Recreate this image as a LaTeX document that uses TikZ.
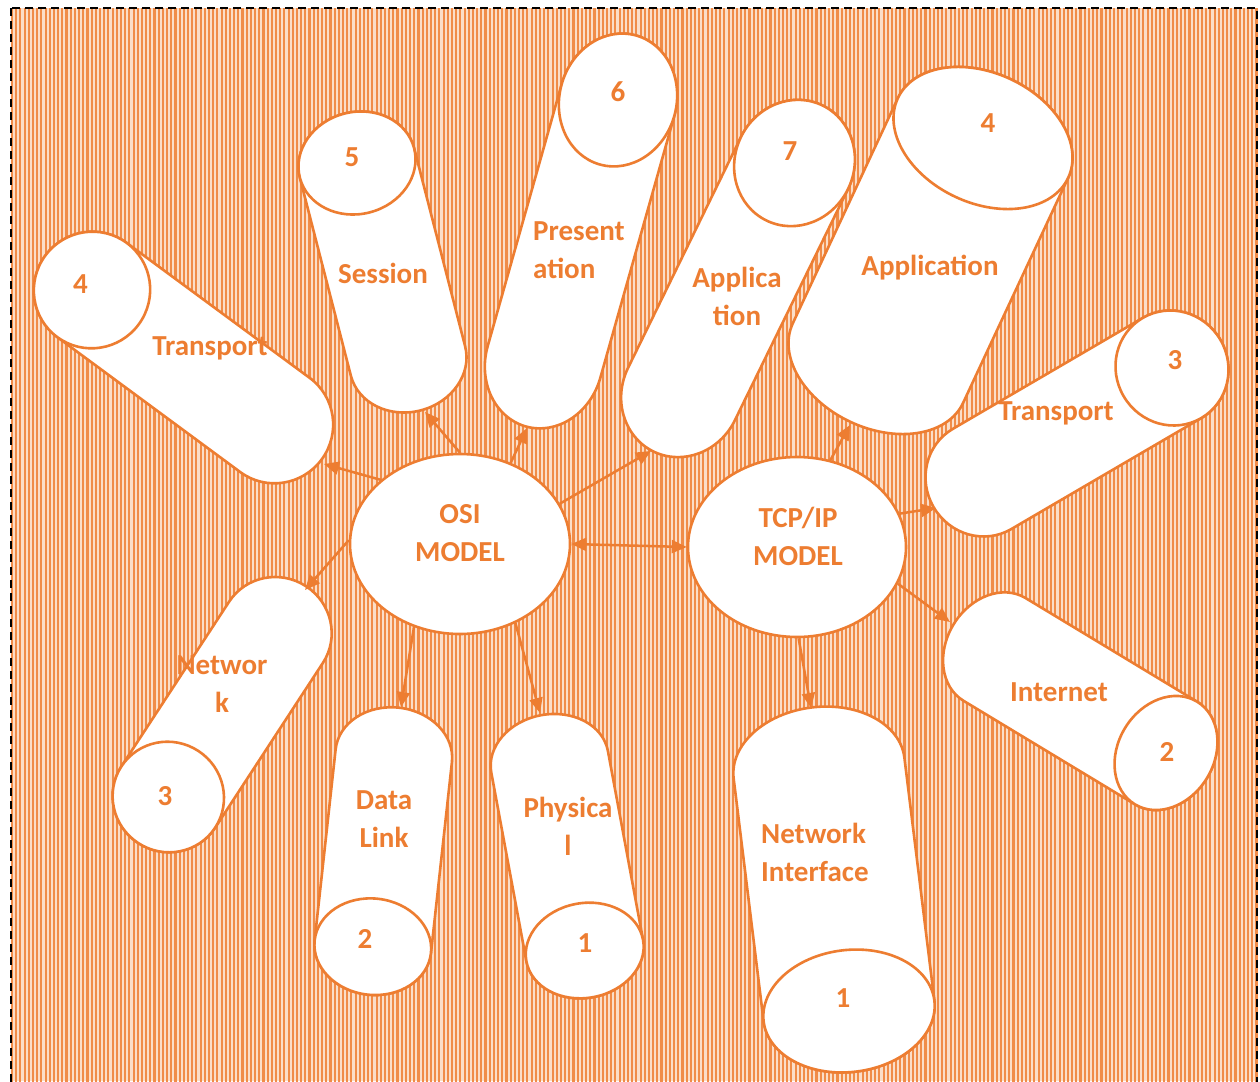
\documentclass[tikz,border=0pt]{standalone}
\usepackage{fontspec}
\setmainfont{Carlito}
\usetikzlibrary{arrows.meta,shapes.geometric}
\definecolor{acc}{RGB}{237,125,49}
\definecolor{stripeA}{RGB}{240,140,72}
\definecolor{stripeB}{RGB}{251,222,200}
\tikzset{
  canbody/.style={draw=acc, fill=white, line width=2.6pt, line join=round},
  modelell/.style={ellipse, draw=acc, fill=white, line width=2.6pt, inner sep=0pt},
  lbl/.style={text=acc, font=\bfseries\fontsize{29}{38}\selectfont, inner sep=0pt, align=center},
  arr/.style={draw=acc, line width=2.5pt, -{Triangle[length=15pt,width=13pt]}},
  darr/.style={draw=acc, line width=2.5pt, {Triangle[length=15pt,width=13pt]}-{Triangle[length=15pt,width=13pt]}}
}
% #1 #2 face centre, #3 #4 back centre (image px), #5 half width, #6 face semi-axis along the can
\newcommand{\drawcan}[6]{%
  \pgfmathsetmacro{\canang}{atan2(-(#4-#2),#3-#1)}%
  \pgfmathsetmacro{\canlen}{veclen(#3-#1,#4-#2)}%
  \begin{scope}[shift={(#1,-#2)},rotate=\canang]
    \filldraw[canbody] (0,#5) -- (\canlen,#5)
      arc[start angle=90,end angle=-90,x radius=#6,y radius=#5]
      -- (0,-#5)
      arc[start angle=-90,end angle=-270,x radius=#6,y radius=#5] -- cycle;
    \draw[canbody] (0,0) ellipse[x radius=#6, y radius=#5];
  \end{scope}}
\begin{document}
\begin{tikzpicture}[x=1pt,y=1pt]
\useasboundingbox (0,0) rectangle (1260,-1081);
\fill[white] (0,0) rectangle (1260,-1081);
% striped background
\fill[stripeB] (11,-8) rectangle (1257,-1081);
\foreach \i in {0,...,297} { \fill[stripeA] ({11+\i*4.19},-8) rectangle ++(2.1,-1075); }
\draw[black, line width=2.5pt, dash pattern=on 8pt off 5pt] (11,-8) rectangle (1257,-1100);

% cans
\drawcan{92}{290}{275}{425}{58.5}{58}
\drawcan{357}{163}{408}{361}{59}{51}
\drawcan{618}{100}{544}{362}{58.5}{67}
\drawcan{794.5}{163}{681.5}{394}{59.5}{64}
\drawcan{983}{138}{878}{363}{94}{65}
\drawcan{1172}{368}{982}{479}{58}{56}
\drawcan{1166}{753}{994.5}{649.4}{60}{48}
\drawcan{849}{1011}{819}{768}{86}{61}
\drawcan{584.7}{950.5}{549.6}{761.8}{59.3}{47.4}
\drawcan{372.8}{946.7}{393.8}{755.6}{58.5}{48.2}
\drawcan{168.3}{797}{276}{632.3}{56}{55}

% model ellipses
\node[modelell, minimum width=220pt, minimum height=180pt] (osi) at (460,-544) {};
\node[modelell, minimum width=218pt, minimum height=180pt] (tcp) at (797,-547) {};

% arrow tips on the cans
\coordinate (tipTr) at (324,-464);
\coordinate (tipSes) at (425,-412);
\coordinate (tipPre) at (527,-428);
\coordinate (tipApp) at (651,-451);
\coordinate (tipNet) at (305,-590);
\coordinate (tipDl) at (401,-707);
\coordinate (tipPhy) at (540,-713);
\coordinate (tipAppT) at (850,-425);
\coordinate (tipTrT) at (936,-508);
\coordinate (tipInet) at (950,-622);
\coordinate (tipNi) at (811,-708);

\draw[arr] (osi.141.4) -- (tipTr);
\draw[arr] (osi.90) -- (tipSes);
\draw[arr] (osi.58.3) -- (tipPre);
\draw[arr] (osi.22.8) -- (tipApp);
\draw[arr] (osi.178) -- (tipNet);
\draw[arr] (osi.241.8) -- (tipDl);
\draw[arr] (osi.305.1) -- (tipPhy);
\draw[darr] (osi.east) -- (tcp.west);
\draw[arr] (tcp.69.5) -- (tipAppT);
\draw[arr] (tcp.18.4) -- (tipTrT);
\draw[arr] (tcp.-20.6) -- (tipInet);
\draw[arr] (tcp.-89.4) -- (tipNi);

% texts
\node[lbl] (osiT) at (460,-533) {OSI\\MODEL};
\node[lbl] (tcpT) at (798,-536.5) {TCP/IP\\MODEL};
\node[lbl] (n4a) at (80.5,-284) {4};
\node[lbl] (trA) at (210,-348) {Transport};
\node[lbl] (n5) at (352,-157) {5};
\node[lbl] (ses) at (383,-273) {Session};
\node[lbl] (n6) at (618,-92) {6};
\node[lbl, align=left, anchor=west] (pre) at (533,-250) {Present\\ation};
\node[lbl] (n7) at (790,-151) {7};
\node[lbl] (app) at (737,-296) {Applica\\tion};
\node[lbl] (n4b) at (988,-123) {4};
\node[lbl] (appT) at (930,-268) {Application};
\node[lbl] (n3b) at (1175,-360) {3};
\node[lbl] (trT) at (1056,-413) {Transport};
\node[lbl] (inet) at (1059,-692) {Internet};
\node[lbl] (n2b) at (1167,-752) {2};
\node[lbl, align=left, anchor=west] (ni) at (761,-852.5) {Network\\Interface};
\node[lbl] (n1b) at (843,-998) {1};
\node[lbl] (phy) at (568,-826) {Physica\\l};
\node[lbl] (n1a) at (585,-943) {1};
\node[lbl] (dl) at (384,-819) {Data\\Link};
\node[lbl] (n2a) at (365,-939) {2};
\node[lbl] (net) at (222,-684) {Networ\\k};
\node[lbl] (n3a) at (165,-796) {3};
\end{tikzpicture}
\end{document}
